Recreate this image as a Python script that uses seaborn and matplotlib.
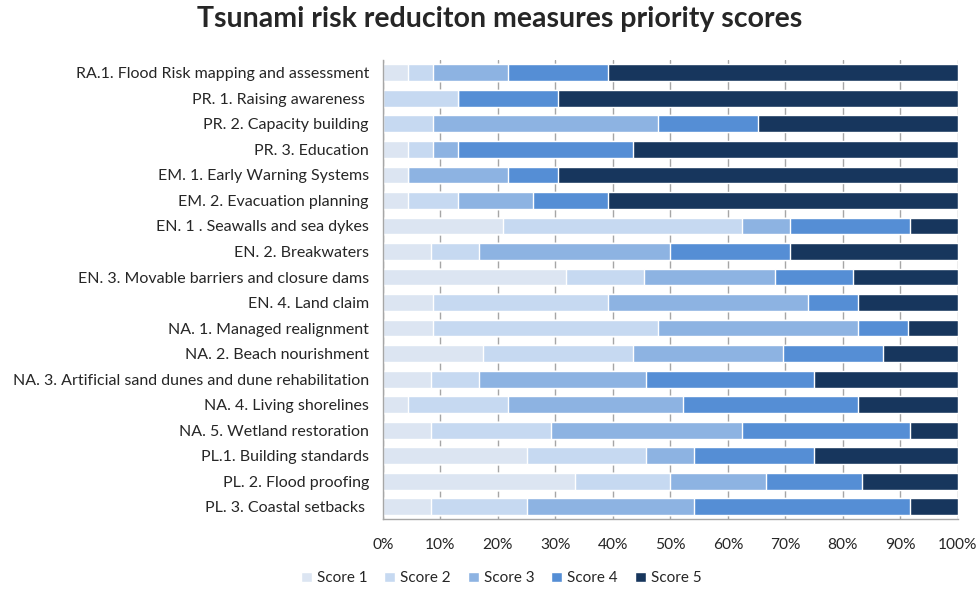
import numpy as np
import pandas as pd
import matplotlib
matplotlib.use("Agg")
import matplotlib.pyplot as plt
import seaborn as sns

# Count of respondents per score for each measure
measures = [
    "RA.1. Flood Risk mapping and assessment",
    "PR. 1. Raising awareness ",
    "PR. 2. Capacity building",
    "PR. 3. Education",
    "EM. 1. Early Warning Systems",
    "EM. 2. Evacuation planning",
    "EN. 1 . Seawalls and sea dykes",
    "EN. 2. Breakwaters",
    "EN. 3. Movable barriers and closure dams",
    "EN. 4. Land claim",
    "NA. 1. Managed realignment",
    "NA. 2. Beach nourishment",
    "NA. 3. Artificial sand dunes and dune rehabilitation",
    "NA. 4. Living shorelines",
    "NA. 5. Wetland restoration",
    "PL.1. Building standards",
    "PL. 2. Flood proofing",
    "PL. 3. Coastal setbacks ",
]
score_1 = [1, 0, 0, 1, 1, 1, 5, 2, 7, 2, 2, 4, 2, 1, 2, 6, 8, 2]
score_2 = [1, 3, 2, 1, 0, 2, 10, 2, 3, 7, 9, 6, 2, 4, 5, 5, 4, 4]
score_3 = [3, 0, 9, 1, 4, 3, 2, 8, 5, 8, 8, 6, 7, 7, 8, 2, 4, 7]
score_4 = [4, 4, 4, 7, 2, 3, 5, 5, 3, 2, 2, 4, 7, 7, 7, 5, 4, 9]
score_5 = [14, 16, 8, 13, 16, 14, 2, 7, 4, 4, 2, 3, 6, 4, 2, 6, 4, 2]

score_names = ["Score 1", "Score 2", "Score 3", "Score 4", "Score 5"]
colors = ["#dce5f2", "#c6d9f1", "#8db3e2", "#558ed5", "#17365d"]

counts = pd.DataFrame(
    {"Score 1": score_1, "Score 2": score_2, "Score 3": score_3,
     "Score 4": score_4, "Score 5": score_5},
    index=measures,
)
pct = counts.div(counts.sum(axis=1), axis=0) * 100
cum = pct.cumsum(axis=1)

sns.set_style("white")
plt.rcParams["font.family"] = ["Lato", "DejaVu Sans"]

fig = plt.figure(figsize=(9.79, 5.89), dpi=100)
ax = fig.add_axes([0.391, 0.118, 0.5875, 0.78])

# stacked bars: draw cumulative totals from the top score down
for name, color in reversed(list(zip(score_names, colors))):
    sns.barplot(x=cum[name].values, y=measures, orient="h", color=color,
                width=0.66, saturation=1, ax=ax, label=name, zorder=2)

ax.set_xlim(0, 100)
ax.set_xticks(np.arange(0, 101, 10))
ax.set_xticklabels([f"{v}%" for v in range(0, 101, 10)])
ax.xaxis.grid(True, color="#a6a6a6", linewidth=1, zorder=0)
ax.set_axisbelow(True)
ax.set_xlabel("")
ax.set_ylabel("")
ax.tick_params(axis="both", length=0, labelsize=11.2, colors="#262626")
ax.tick_params(axis="y", labelsize=11.5, pad=10)
ax.tick_params(axis="x", pad=13)
for side in ["top", "right"]:
    ax.spines[side].set_visible(False)
for side in ["left", "bottom"]:
    ax.spines[side].set_color("#a6a6a6")
    ax.spines[side].set_linewidth(1)

handles, labels = ax.get_legend_handles_labels()
if ax.get_legend() is not None:
    ax.get_legend().remove()
order = [labels.index(n) for n in score_names]
fig.legend([handles[i] for i in order], score_names, loc="center",
           bbox_to_anchor=(0.512, 0.018), ncol=5, frameon=False,
           fontsize=11, handlelength=0.7, handleheight=0.7,
           handletextpad=0.35, columnspacing=1.1, labelcolor="#262626")

fig.suptitle("Tsunami risk reduciton measures priority scores", x=0.51, y=0.99,
             fontsize=20.5, fontweight="bold")

fig.savefig("out.png", dpi=100)
